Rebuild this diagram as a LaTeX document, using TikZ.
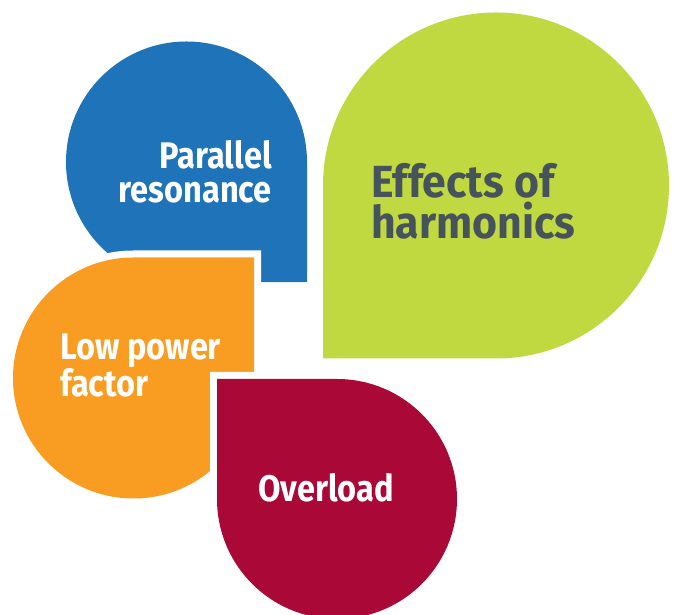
\documentclass[tikz,border=0pt]{standalone}
\usepackage{fontspec}
\newfontfamily\dropfont{Fira Sans}[FakeStretch=0.88]
\newfontfamily\titlefont{Fira Sans}[FakeStretch=0.95]
\usepackage{xcolor}
\usepackage{tikz}

\definecolor{cBlue}{RGB}{31,115,185}
\definecolor{cGreen}{RGB}{193,217,64}
\definecolor{cOrange}{RGB}{248,157,33}
\definecolor{cRed}{RGB}{170,8,54}
\definecolor{cSlate}{RGB}{70,82,92}

\tikzstyle{tsDrop} = [
    preaction={draw=white, line width=14pt}
]
\tikzstyle{tsLabel} = [
    text=white,
    inner sep=0pt,
    font=\dropfont\bfseries\fontsize{37}{34}\selectfont
]
\tikzstyle{tsTitle} = [
    tsLabel,
    text=cSlate,
    font=\titlefont\bfseries\fontsize{45}{41}\selectfont
]

\begin{document}
\begin{tikzpicture}[x=1pt, y=1pt]

        \useasboundingbox (0,0) rectangle (675,615);

        % the four drops, each with one square corner
        \fill[tsDrop, cBlue] (307,333) -- (307,453)
            arc[start angle=0, delta angle=270, radius=120.5] -- cycle;
        \fill[tsDrop, cGreen] (323,256.5) -- (496,256.5)
            arc[start angle=-90, delta angle=270, radius=173] -- cycle;
        \fill[tsDrop, cOrange] (254,357.5) -- (133.5,357.5)
            arc[start angle=90, delta angle=270, radius=120.5] -- cycle;
        \fill[tsDrop, cRed] (217,236) -- (217,116)
            arc[start angle=180, delta angle=270, radius=120] -- cycle;

        % base anchor sits on the last line
        \node[tsLabel, align=right, anchor=base east] (parallel) at (272,412) {Parallel\\resonance};
        \node[tsTitle, align=left, anchor=base west] (effects) at (371,376) {Effects of\\harmonics};
        \node[tsLabel, align=left, anchor=base west] (lowpf) at (60,218) {Low power\\factor};
        \node[tsLabel, anchor=base west] (overload) at (258,113) {Overload};

\end{tikzpicture}
\end{document}
